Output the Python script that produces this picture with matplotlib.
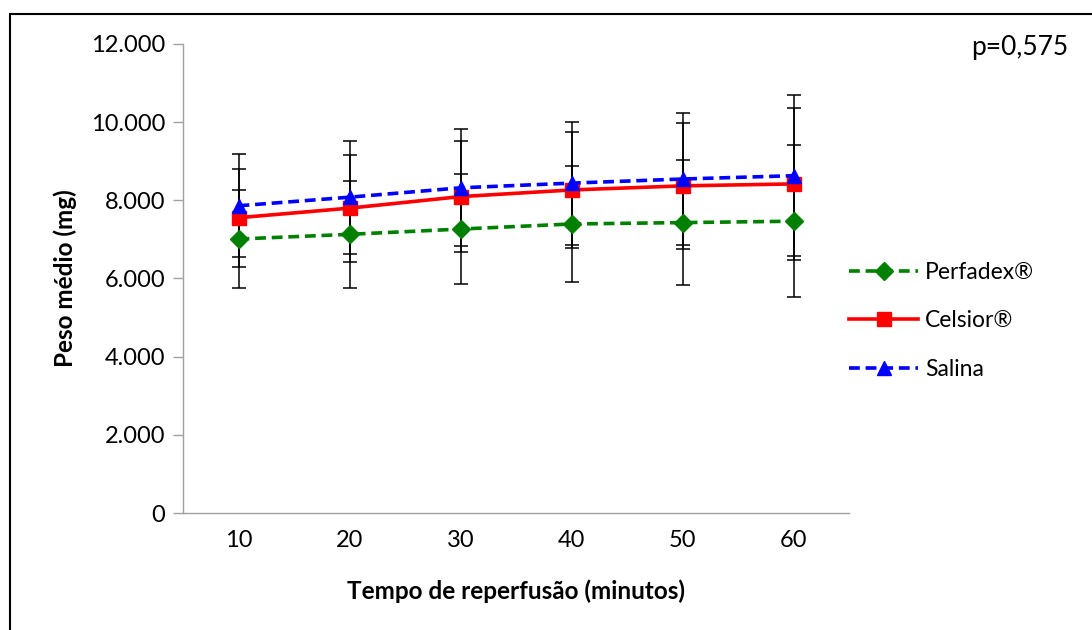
import matplotlib

matplotlib.use("Agg")
import matplotlib.pyplot as plt
from matplotlib.patches import Rectangle

plt.rcParams["font.family"] = ["Lato", "DejaVu Sans"]

tempos = ["10", "20", "30", "40", "50", "60"]
perfadex = [7010, 7130, 7265, 7395, 7430, 7465]
perfadex_sd = [1245, 1365, 1415, 1490, 1595, 1947]
celsior = [7555, 7800, 8095, 8265, 8370, 8420]
celsior_sd = [1250, 1368, 1420, 1495, 1605, 1951]
salina = [7860, 8080, 8320, 8440, 8545, 8630]
salina_sd = [1320, 1447, 1495, 1575, 1680, 2060]
p_valor = "p=0,575"

GREEN = "#008000"
RED = "#FF0000"
BLUE = "#0000FF"

fig = plt.figure(figsize=(10.92, 6.3), dpi=100)
ax = fig.add_axes([0.1676, 0.1857, 0.61, 0.7445])
xs = list(range(1, len(tempos) + 1))

# error bars first, black, behind the lines
for ys, sd in [(perfadex, perfadex_sd), (celsior, celsior_sd), (salina, salina_sd)]:
    ax.errorbar(xs, ys, yerr=sd, fmt="none", ecolor="black", elinewidth=1.1,
                capsize=5, capthick=1.1, zorder=2)

ax.plot(xs, perfadex, color=GREEN, lw=2.6, ls=(0, (3, 1.6)), marker="D", ms=9,
        label="Perfadex®", zorder=3)
ax.plot(xs, celsior, color=RED, lw=2.6, ls="-", marker="s", ms=10,
        label="Celsior®", zorder=4)
ax.plot(xs, salina, color=BLUE, lw=2.6, ls=(0, (3, 1.6)), marker="^", ms=10,
        label="Salina", zorder=5)

ax.set_xlim(0.5, len(tempos) + 0.5)
ax.set_ylim(0, 12000)
ax.set_xticks(xs)
ax.set_xticklabels(tempos)
ax.set_yticks(range(0, 12001, 2000))
ax.set_yticklabels(["0"] + [f"{v // 1000}.000" for v in range(2000, 12001, 2000)])
ax.tick_params(axis="y", direction="out", length=7, width=1, color="#a0a0a0",
               labelsize=17, pad=6)
ax.tick_params(axis="x", length=0, labelsize=17, pad=12)

for side in ["top", "right"]:
    ax.spines[side].set_visible(False)
for side in ["left", "bottom"]:
    ax.spines[side].set_color("#a0a0a0")
    ax.spines[side].set_linewidth(1)

ax.set_ylabel("Peso médio (mg)", fontsize=17.5, fontweight="bold", labelpad=10)
ax.set_xlabel("Tempo de reperfusão (minutos)", fontsize=17.5, fontweight="bold",
              labelpad=21)

ax.legend(loc="center left", bbox_to_anchor=(1.0, 0.41), frameon=False,
          fontsize=16.5, handlelength=3.0, labelspacing=1.2, handletextpad=0.3,
          borderaxespad=0, borderpad=0)

fig.text(0.978, 0.925, p_valor, fontsize=19, ha="right", va="center")

# outer frame of the chart area
fig.patches.append(Rectangle((0.0092, -0.05), 1.2, 1.027, transform=fig.transFigure,
                             fill=False, edgecolor="black", lw=1.5))

fig.savefig("out.png", dpi=100)
